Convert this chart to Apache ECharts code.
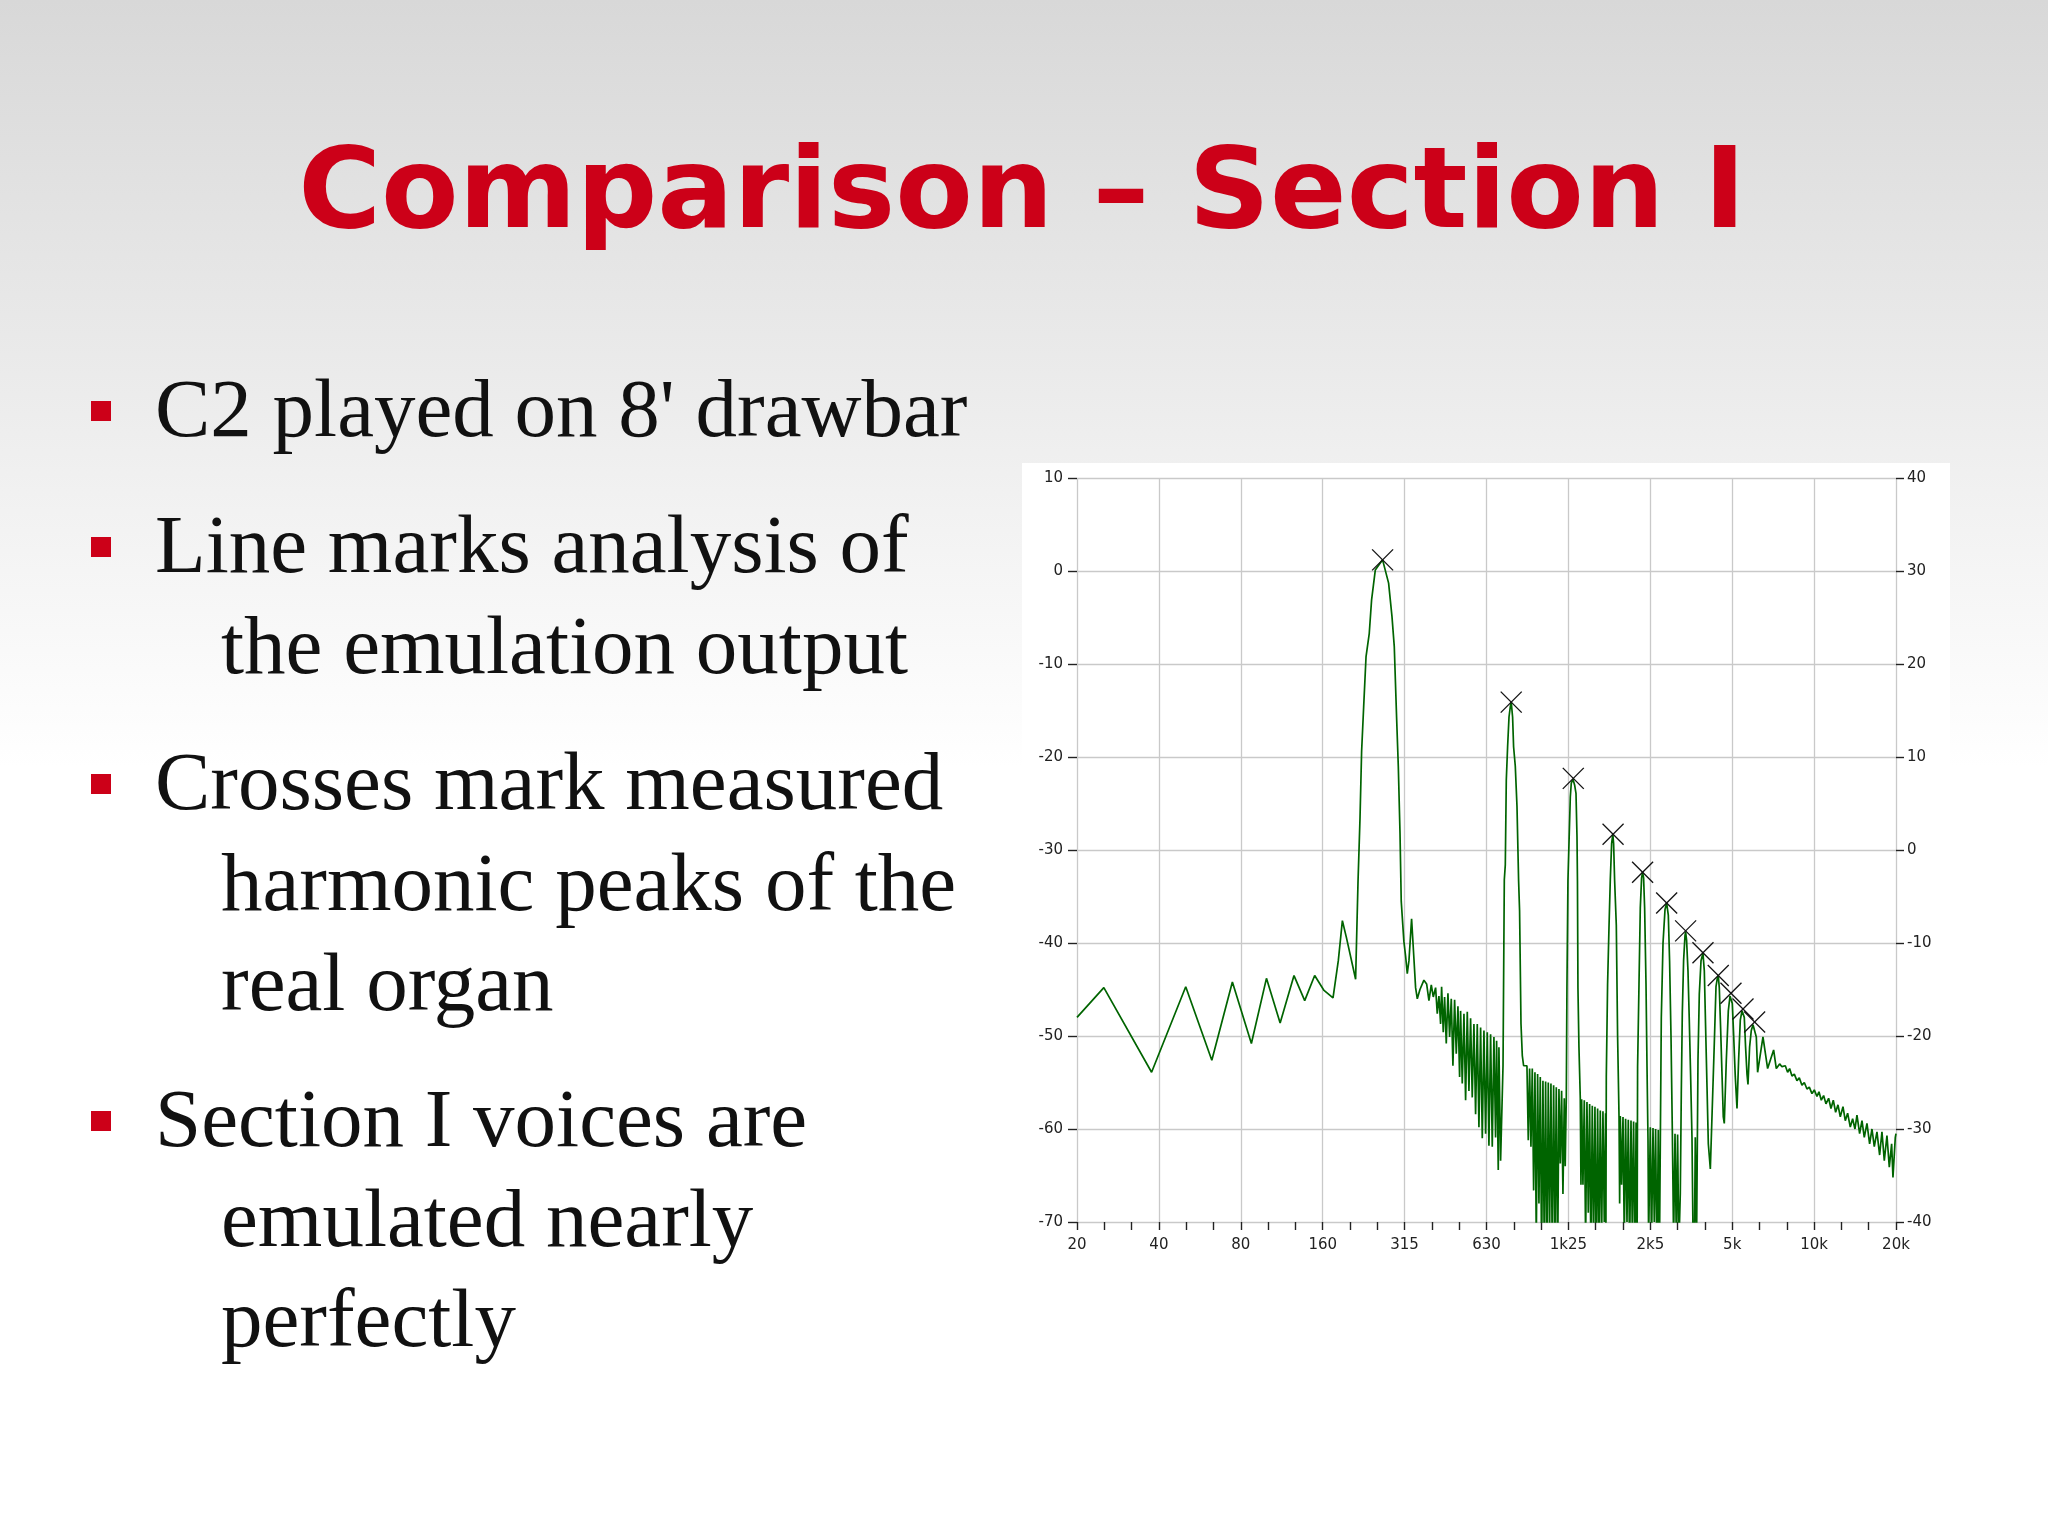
<!DOCTYPE html>
<html>
<head>
<meta charset="utf-8">
<style>
html,body{margin:0;padding:0;background:#fff;}
#c{width:2048px;height:1535px;}
</style>
<script src="https://cdn.jsdelivr.net/npm/echarts@6.0.0/dist/echarts.min.js"></script>
</head>
<body>
<div id="c"></div>
<script>
// ---------------- DATA ----------------
const TITLE = 'Comparison \u2013 Section I';
const BULLETS = [
  ["C2 played on 8' drawbar"],
  ["Line marks analysis of", "the emulation output"],
  ["Crosses mark measured", "harmonic peaks of the", "real organ"],
  ["Section I voices are", "emulated nearly", "perfectly"]
];
// octave tick labels of the frequency axis (20 Hz .. 20 kHz)
const X_TICK_LABELS = ['20','40','80','160','315','630','1k25','2k5','5k','10k','20k'];

// measured harmonic peaks of the real organ (crosses)
const peakFreqHz = [265.6, 789, 1334, 1868, 2398, 2940, 3452, 3998, 4550, 5066, 5610, 6190];
const peakLevelDb = [1.2, -14.1, -22.3, -28.3, -32.4, -35.7, -38.7, -41.05, -43.5, -45.4, -47.1, -48.5];

// emulation output spectrum [Hz, dB], in segments
const lowNoise = [[20,-48.0],[25.1,-44.8],[37.6,-53.9],[50.2,-44.7],[62.6,-52.6],[74.5,-44.2],[87.5,-50.8],
  [99.4,-43.8],[111.6,-48.6],[125.5,-43.5],[137.4,-46.2],[149.5,-43.5],[161.8,-45.1],[174.6,-45.9],
  [182.6,-41.9],[189,-37.6],[195.5,-39.4],[211.4,-43.9],[215.7,-33.5]];
const fundamental = [[219.4,-26.6],[222.4,-19.4],[226.3,-14.6],[230.9,-9.2],[237.3,-6.7],[242,-3.1],[249.7,0.1],
  [265.6,1.2],[279.5,-1.3],[287.6,-4.9],[293.2,-8.1],[299,-15.7],[303.4,-21.0],[307.8,-28.2],[311,-35.5],
  [318,-39.8],[322.7,-41.4],[327.3,-43.3],[332,-41.9],[339.5,-37.4],[346.3,-41.7],[351.2,-44.8],[356.3,-46.0],
  [364.4,-45.0],[376.8,-44.0],[385.6,-44.4],[393.2,-46.2],[401.1,-44.5],[407.9,-45.8]];
const comb1 = [[416,-44.8],[421.9,-47.6],[427.9,-45.7],[434,-48.7],[437.7,-44.7],[443.9,-49.6],[448.9,-45.8],
  [455.3,-50.8],[461.8,-45.4],[468.4,-50.1],[475,-46.0],[481.7,-53.2],[488.6,-46.1],[495.5,-51.9],[502.6,-46.8],
  [509.7,-54.4],[514,-47.3],[521.3,-55.1],[528.8,-47.6],[536.3,-56.9],[543.9,-47.4],[551.6,-55.9],[559.4,-48.1],
  [567.3,-56.6],[575.4,-48.7],[583.6,-58.4],[591.9,-48.7],[600.3,-59.8],[608.9,-49.1],[617.5,-61.0],[626.3,-49.4],
  [635.2,-60.5],[644.2,-49.6],[653.3,-61.8],[662.6,-49.8],[672,-61.9],[681.5,-50.1],[691.2,-60.9],[697.1,-50.5],
  [707,-64.4],[711,-51.2],[721.1,-63.4]];
const harmonic3 = [[736,-53.2],[744.1,-33.2],[750.4,-31.6],[756.7,-22.5],[765.2,-18.9],[774.3,-15.7],[782.8,-14.6],
  [789,-14.1],[798.2,-15.7],[804.9,-18.9],[816.6,-21.0],[828.4,-25.3],[839.8,-33.3],[846.8,-36.5],[857,-48.7],
  [866.5,-52.1],[876.2,-53.2]];
const comb2 = [[901.2,-53.2],[911.5,-61.2],[921.8,-53.5],[932.3,-61.9],[942.9,-53.5],[953.7,-66.6],[964.4,-53.9],
  [975.4,-72],[986.4,-54.1],[997.6,-68],[1008.9,-54.4],[1020.4,-74],[1031.9,-54.8],[1043.6,-73],[1055.5,-54.9],
  [1067.5,-75],[1079.6,-55.0],[1091.8,-71],[1104.2,-55.1],[1116.8,-74],[1129.5,-55.3],[1142.3,-72],[1155.3,-55.5],
  [1168.2,-75],[1181.6,-55.7],[1195,-63.7],[1208.5,-55.9],[1222.3,-67],[1236.1,-56.7],[1246,-64]];
const harmonic5 = [[1257.3,-56.7],[1264.3,-44.8],[1275,-33.3],[1300.8,-24.3],[1311.8,-22.8],[1330.7,-22.4],
  [1349,-23.0],[1365,-23.9],[1376.6,-28.6],[1382,-33.3],[1387.7,-44.8],[1399.6,-51.2],[1415.4,-56.7]];
const comb3 = [[1423.5,-66],[1431.7,-56.8],[1447.9,-66],[1464.2,-56.9],[1480.8,-72],[1497.6,-57.1],[1514.6,-69],
  [1531.8,-57.3],[1549.1,-74],[1566.7,-57.5],[1584.5,-72],[1602.5,-57.6],[1620.7,-75],[1639,-57.8],[1657.7,-73],
  [1676.5,-58.0],[1695.5,-72],[1714.8,-58.1],[1734.1,-70],[1753.9,-58.3],[1758,-72]];
const harmonic7 = [[1764,-54.4],[1783.4,-44.4],[1804.7,-38.3],[1824.8,-33.2],[1845.5,-29.3],[1864,-28.3],
  [1876.7,-29.3],[1892.4,-33.2],[1920,-38.1],[1941.4,-50.1],[1964.8,-58.7],[1975,-68]];
const comb4 = [[1985.9,-58.6],[2007.8,-66],[2031.9,-58.7],[2054.3,-72],[2077,-58.9],[2101.8,-70],[2125,-59.0],
  [2148.6,-74],[2174.2,-59.1],[2198.1,-71],[2222.5,-59.2],[2249,-75],[2270,-59.3]];
const harmonic9 = [[2290,-72],[2299,-53.3],[2326.5,-44.4],[2352.3,-36.2],[2378.2,-33.0],[2398,-32.4],[2419,-33.0],
  [2440,-36.2],[2468.7,-44.4],[2489.7,-53.3],[2510.8,-61.2],[2523.6,-72]];
const comb5 = [[2560,-59.8],[2588.4,-72],[2619.2,-59.9],[2648,-70],[2677.5,-60.0],[2709.3,-75],[2739.2,-60.1],[2765,-74]];
const harmonic11 = [[2810,-48],[2850.8,-40],[2899.5,-36.4],[2940,-35.7],[2981.4,-37.0],[3014.4,-42.0],
  [3050.2,-50.0],[3084,-60.0],[3118,-72]];
const comb6 = [[3155.5,-60.5],[3190.3,-72],[3225.6,-60.6],[3258.6,-73]];
const harmonic13 = [[3300.1,-66.9],[3327.8,-56.2],[3356.2,-47.6],[3393.3,-41.9],[3433.7,-39.2],[3452,-38.8],
  [3480.3,-39.7],[3521.8,-43.0],[3560.7,-48.3],[3600.1,-54.1],[3643.1,-60.9],[3673.9,-71],[3714.8,-74],
  [3746.4,-60.9],[3787.6,-72]];
const upperHarmonics = [[3832.6,-52.6],[3875.6,-45.5],[3932.3,-41.9],[3998,-41.1],[4043.8,-43.0],[4088.6,-49.1],
  [4137.4,-55.5],[4183.3,-61.6],[4255,-64.3],
  [4400.2,-50.8],[4463.9,-44.7],[4513.3,-43.8],[4550,-43.5],[4590.3,-44.8],[4641.3,-49.1],[4696.6,-54.1],
  [4748.3,-58.7],[4788.5,-59.4],
  [4871.2,-52.6],[4954.4,-47.3],[5026,-45.7],[5066,-45.5],[5124.3,-46.5],[5181,-49.8],[5256.2,-54.4],[5332.5,-57.8],
  [5404.7,-52.6],[5483,-48.3],[5562.9,-47.3],[5610,-47.2],[5671.4,-48.0],[5734.4,-51.2],[5803,-54.1],[5851.6,-55.2],
  [5932.5,-51.2],[6018,-49.4],[6105.6,-48.8],[6188.5,-48.7],[6278.7,-50.1],[6348.9,-53.9]];
const tail = [[6642.6,-50.1],[6909.7,-53.5],[7270,-51.5],[7436.6,-53.5],[7648.8,-53.0],[7801.6,-53.3],[8024.4,-53.2],
  [8184.5,-53.9],[8324.8,-53.5],[8491,-54.3],[8659.9,-54.1],[8857.2,-54.8],[9034.3,-54.5],[9240.5,-55.3],
  [9424.7,-55.0],[9640.2,-55.7],[9832.7,-55.5],[10057,-56.2],[10257,-55.8],[10491,-56.5],[10671,-56.0],
  [10883,-56.9],[11100,-56.4],[11321,-57.3],[11580,-56.7],[11811,-57.8],[12046,-56.9],[12286,-58.2],[12532,-57.4],
  [12782,-58.7],[13074,-57.6],[13334,-59.1],[13600,-58.3],[13910,-59.8],[14188,-58.9],[14471,-60.0],[14718,-58.5],
  [15054,-60.5],[15355,-59.1],[15660,-60.9],[16017,-59.4],[16383,-61.6],[16711,-60.0],[17043,-61.9],[17432,-60.3],
  [17831,-62.8],[18186,-60.3],[18548,-63.4],[18972,-60.7],[19350,-64.1],[19737,-61.6],[19961,-65.2],[20359,-60.9],
  [20480,-60.5]];

// ---------------- BUILD ----------------
const octaves = f => Math.log2(f / 20);   // log2 frequency scale, 0 = 20 Hz
const spectrum = [].concat(lowNoise, fundamental, comb1, harmonic3, comb2, harmonic5, comb3, harmonic7,
  comb4, harmonic9, comb5, harmonic11, comb6, harmonic13, upperHarmonics, tail)
  .map(p => [octaves(p[0]), p[1]]);
const peaks = peakFreqHz.map((f, i) => [octaves(f), peakLevelDb[i]]);

const RED = '#cc0018';
const TEXT = '#111111';
const gridCol = '#c9c9c9';
const tickCol = '#222';

const chart = echarts.init(document.getElementById('c'), null, {renderer: 'canvas', width: 2048, height: 1535});

// slide layout
const graphics = [
  {type: 'rect', z: -100, shape: {x: 0, y: 0, width: 2048, height: 1535},
   style: {fill: new echarts.graphic.LinearGradient(0, 0, 0, 1, [
     {offset: 0, color: '#d8d8d8'}, {offset: 0.5, color: '#ffffff'}, {offset: 1, color: '#ffffff'}])}},
  {type: 'rect', z: -99, shape: {x: 1022, y: 463, width: 928, height: 805}, style: {fill: '#ffffff'}},
  {type: 'text', z: 100, x: 1022, y: 198,
   style: {text: TITLE, font: 'bold 113px "DejaVu Sans"', fill: RED, textAlign: 'center', textVerticalAlign: 'middle'}}
];
const BULLET_BASELINES = [[436], [572, 673], [809, 910, 1010], [1146, 1246, 1346]];
BULLETS.forEach((lines, bi) => {
  lines.forEach((line, li) => {
    const base = BULLET_BASELINES[bi][li];
    if (li === 0) {
      graphics.push({type: 'rect', z: 100, shape: {x: 91, y: base - 35, width: 20, height: 20}, style: {fill: RED}});
    }
    graphics.push({type: 'text', z: 100, x: li === 0 ? 155 : 221, y: base - 21.5,
      style: {text: line, font: '83px "Liberation Serif"', fill: TEXT, textAlign: 'left', textVerticalAlign: 'middle'}});
  });
});

const axisFont = {fontSize: 15, fontFamily: '"DejaVu Sans"', color: tickCol};

chart.setOption({
  animation: false,
  graphic: graphics,
  grid: {left: 1077, top: 478, width: 819, height: 744, containLabel: false},
  xAxis: {
    type: 'value', min: 0, max: 10, interval: 1,
    axisLine: {show: false, onZero: false},
    axisTick: {show: true, length: 8, lineStyle: {color: tickCol, width: 1.4}},
    minorTick: {show: true, splitNumber: 3, length: 8, lineStyle: {color: tickCol, width: 1.4}},
    axisLabel: Object.assign({margin: 16, formatter: v => X_TICK_LABELS[Math.round(v)]}, axisFont),
    splitLine: {show: true, lineStyle: {color: gridCol, width: 1.3}},
    minorSplitLine: {show: false}
  },
  yAxis: [
    {
      type: 'value', min: -70, max: 10, interval: 10, position: 'left',
      axisLine: {show: false, onZero: false},
      axisTick: {show: true, length: 9, lineStyle: {color: tickCol, width: 1.4}},
      axisLabel: Object.assign({margin: 14}, axisFont),
      splitLine: {show: true, lineStyle: {color: gridCol, width: 1.3}}
    },
    {
      type: 'value', min: -40, max: 40, interval: 10, position: 'right',
      axisLine: {show: false, onZero: false},
      axisTick: {show: true, length: 8, lineStyle: {color: tickCol, width: 1.4}},
      axisLabel: Object.assign({margin: 11}, axisFont),
      splitLine: {show: false}
    }
  ],
  series: [
    {
      type: 'line', data: spectrum, xAxisIndex: 0, yAxisIndex: 0,
      showSymbol: false, symbol: 'none', clip: true, z: 3,
      lineStyle: {color: '#006400', width: 1.7}, silent: true
    },
    {
      type: 'custom', coordinateSystem: 'cartesian2d', data: peaks, z: 5, silent: true,
      renderItem: (params, api) => {
        const p = api.coord([api.value(0), api.value(1)]);
        const s = 10.5;
        const st = {stroke: '#111', lineWidth: 1.3};
        return {type: 'group', children: [
          {type: 'line', shape: {x1: p[0] - s, y1: p[1] - s, x2: p[0] + s, y2: p[1] + s}, style: st},
          {type: 'line', shape: {x1: p[0] - s, y1: p[1] + s, x2: p[0] + s, y2: p[1] - s}, style: st}
        ]};
      }
    }
  ]
});
</script>
</body>
</html>
